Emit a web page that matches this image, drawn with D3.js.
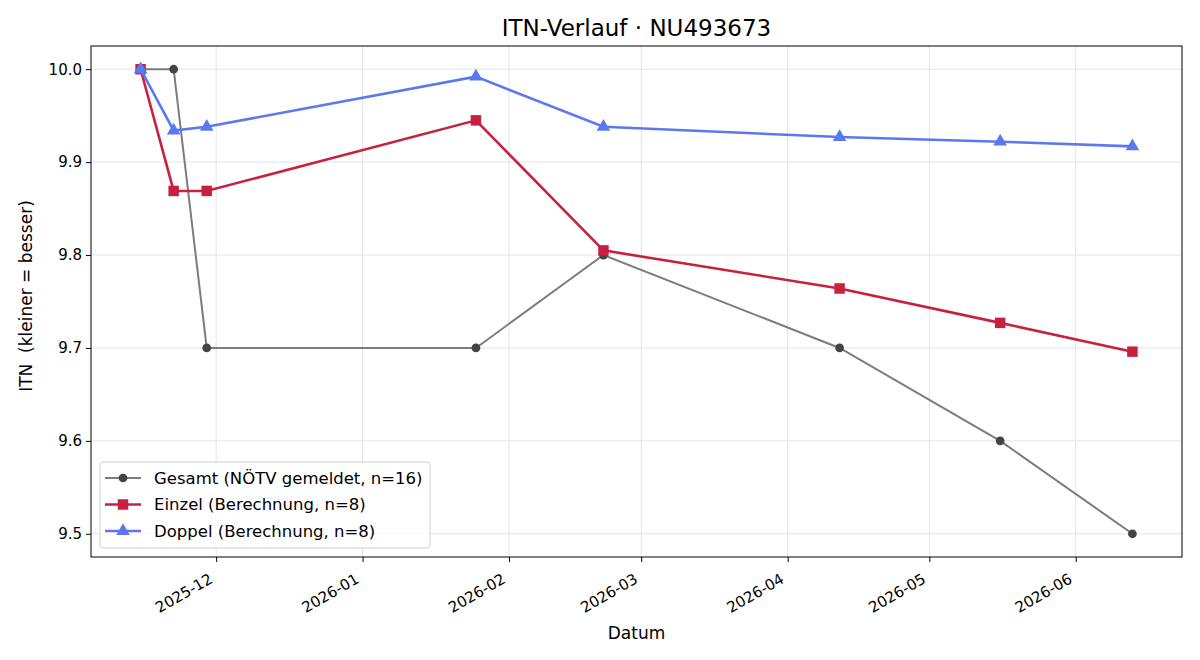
<!DOCTYPE html>
<html>
<head>
<meta charset="utf-8">
<script src="https://cdn.jsdelivr.net/npm/d3@7"></script>
<style>
  body { margin: 0; background: #fff; }
  text { font-family: "DejaVu Sans", sans-serif; }
</style>
</head>
<body>
<div id="chart"></div>
<script>
// data
var dates = ["2025-11-15", "2025-11-22", "2025-11-29", "2026-01-25", "2026-02-21", "2026-04-12", "2026-05-16", "2026-06-13"];
var gesamt = [10.0, 10.0, 9.7, 9.7, 9.8, 9.7, 9.6, 9.5];
var einzel = [10.0, 9.869, 9.869, 9.945, 9.805, 9.764, 9.727, 9.696];
var doppel = [10.0, 9.934, 9.938, 9.992, 9.938, 9.927, 9.922, 9.917];
var yTicks = [9.5, 9.6, 9.7, 9.8, 9.9, 10.0];
var xTicks = ["2025-12-01", "2026-01-01", "2026-02-01", "2026-03-01", "2026-04-01", "2026-05-01", "2026-06-01"];
var seriesNames = ["Gesamt (NÖTV gemeldet, n=16)", "Einzel (Berechnung, n=8)", "Doppel (Berechnung, n=8)"];

var width = 1200, height = 660;
var margin = {top: 46, right: 18, bottom: 103, left: 91};
var w = width - margin.left - margin.right,
    h = height - margin.top - margin.bottom;

var parse = d3.utcParse("%Y-%m-%d");
var dts = dates.map(parse);

var svg = d3.select("#chart").append("svg")
    .attr("width", width)
    .attr("height", height);

var g = svg.append("g")
    .attr("transform", "translate(" + margin.left + "," + margin.top + ")");

// 5% padding on both ends like matplotlib
var t0 = d3.min(dts), t1 = d3.max(dts);
var pad = (t1 - t0) * 0.05;
var x = d3.scaleUtc()
    .domain([new Date(+t0 - pad), new Date(+t1 + pad)])
    .range([0, w]);

var y = d3.scaleLinear()
    .domain([9.475, 10.025])
    .range([h, 0]);

// grid
g.append("g").selectAll("line")
  .data(xTicks.map(parse))
  .enter().append("line")
    .attr("x1", function(d) { return x(d); })
    .attr("x2", function(d) { return x(d); })
    .attr("y1", 0).attr("y2", h)
    .attr("stroke", "#e4e4e4").attr("stroke-width", 1);
g.append("g").selectAll("line")
  .data(yTicks)
  .enter().append("line")
    .attr("x1", 0).attr("x2", w)
    .attr("y1", function(d) { return y(d); })
    .attr("y2", function(d) { return y(d); })
    .attr("stroke", "#e4e4e4").attr("stroke-width", 1);

// axes
var xAxis = g.append("g")
    .attr("transform", "translate(0," + h + ")")
    .attr("font-size", null).attr("font-family", null)
    .call(d3.axisBottom(x).tickValues(xTicks.map(parse)).tickFormat(d3.utcFormat("%Y-%m")).tickSize(5));
xAxis.select(".domain").remove();
xAxis.selectAll("text")
    .attr("font-size", 15).style("font-size", "15px")
    .attr("fill", "#000")
    .attr("text-anchor", "end")
    .attr("x", 0).attr("y", 0).attr("dy", null)
    .attr("transform", "translate(-3,25) rotate(-30)");

var yAxis = g.append("g")
    .call(d3.axisLeft(y).tickValues(yTicks).tickFormat(d3.format(".1f")).tickSize(5).tickPadding(4));
yAxis.select(".domain").remove();
yAxis.selectAll("text").attr("font-size", 15).style("font-size", "15px").attr("fill", "#000");

// frame
g.append("rect")
    .attr("width", w).attr("height", h)
    .attr("fill", "none").attr("stroke", "#000").attr("stroke-width", 1);

// lines + markers
var styles = [
  {line: "#7c7c7c", marker: "#444444", lw: 2, shape: d3.symbolCircle, size: 60},
  {line: "#c8203f", marker: "#c8203f", lw: 2.6, shape: d3.symbolSquare, size: 110},
  {line: "#5b78f0", marker: "#5b78f0", lw: 2.6, shape: d3.symbolTriangle, size: 80}
];
var allSeries = [gesamt, einzel, doppel];

var line = d3.line()
    .x(function(d, i) { return x(dts[i]); })
    .y(function(d) { return y(d); });

allSeries.forEach(function(vals, k) {
  var s = styles[k];
  g.append("path")
    .datum(vals)
    .attr("fill", "none")
    .attr("stroke", s.line)
    .attr("stroke-width", s.lw)
    .attr("d", line);
  g.append("g").selectAll("path")
    .data(vals)
    .enter().append("path")
      .attr("transform", function(d, i) { return "translate(" + x(dts[i]) + "," + y(d) + ")"; })
      .attr("d", d3.symbol().type(s.shape).size(s.size))
      .attr("fill", s.marker);
});

// legend
var lg = g.append("g").attr("transform", "translate(9," + (h - 95) + ")");
lg.append("rect")
    .attr("width", 330).attr("height", 86).attr("rx", 3)
    .attr("fill", "#fff").attr("fill-opacity", 0.8)
    .attr("stroke", "#d0d0d0");
seriesNames.forEach(function(name, k) {
  var s = styles[k];
  var yy = 16 + k * 26.5;
  lg.append("line").attr("x1", 5).attr("x2", 41).attr("y1", yy).attr("y2", yy)
    .attr("stroke", s.line).attr("stroke-width", s.lw);
  lg.append("path")
    .attr("transform", "translate(23," + yy + ")")
    .attr("d", d3.symbol().type(s.shape).size(s.size))
    .attr("fill", s.marker);
  lg.append("text").attr("x", 54).attr("y", yy).attr("dy", "0.36em")
    .style("font-size", "16.5px").text(name);
});

// titles
svg.append("text")
    .attr("x", margin.left + w / 2).attr("y", 36)
    .attr("text-anchor", "middle")
    .style("font-size", "23px")
    .text("ITN-Verlauf · NU493673");

svg.append("text")
    .attr("x", margin.left + w / 2).attr("y", 639)
    .attr("text-anchor", "middle")
    .style("font-size", "17px")
    .text("Datum");

svg.append("text")
    .attr("transform", "translate(32," + 296 + ") rotate(-90)")
    .attr("text-anchor", "middle")
    .style("font-size", "17px")
    .style("white-space", "pre")
    .text("ITN  (kleiner = besser)");
</script>
</body>
</html>
